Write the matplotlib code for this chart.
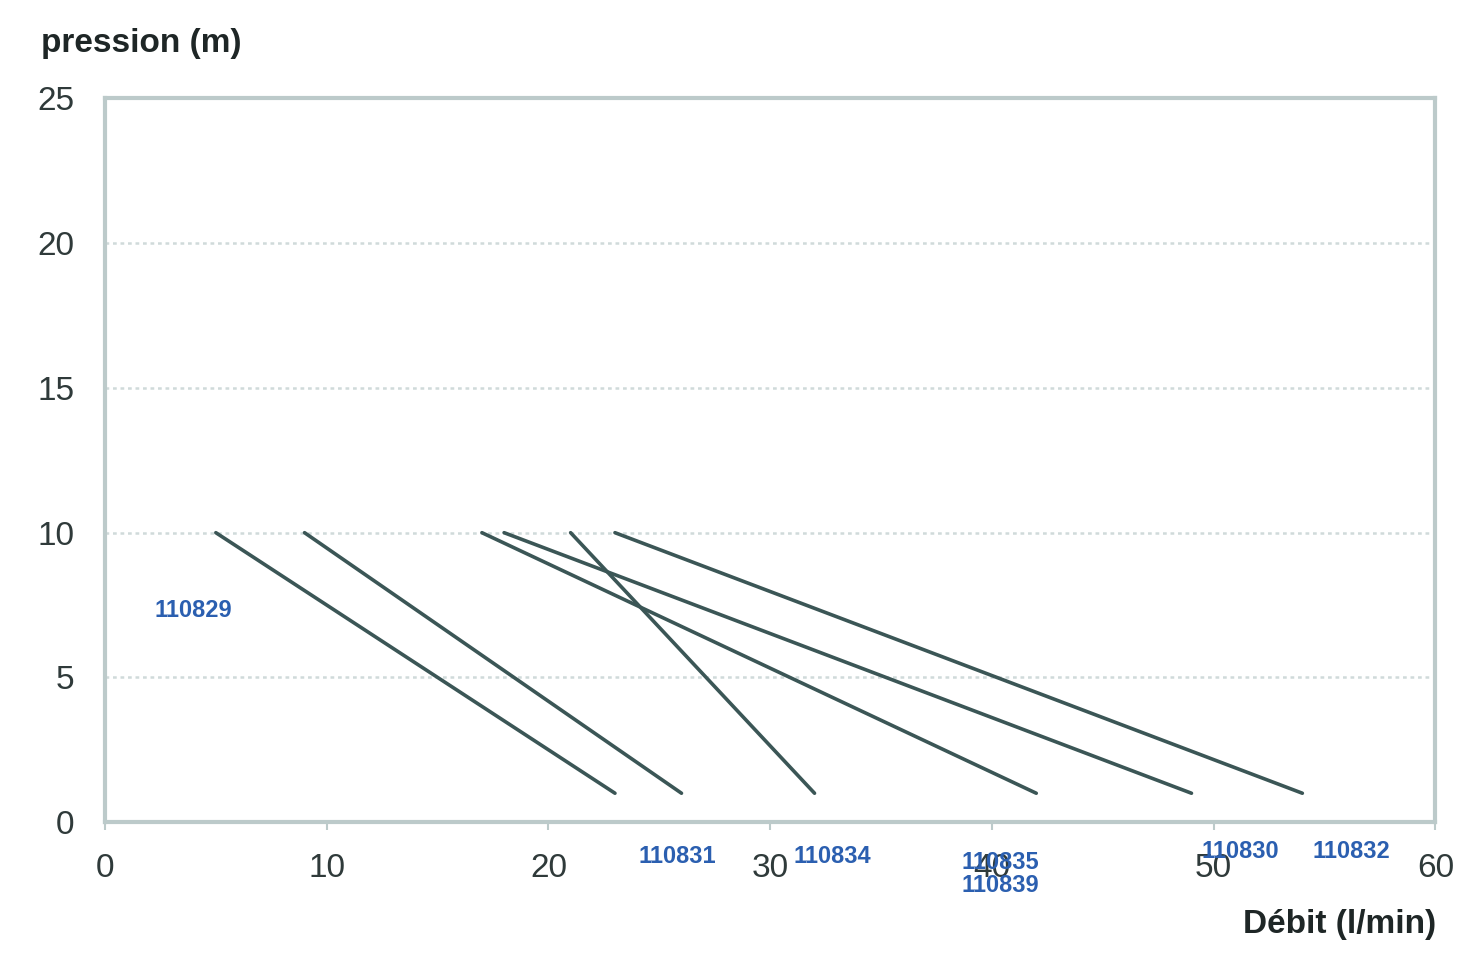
import numpy as np
import matplotlib.pyplot as plt

plt.rcParams['font.family'] = ['Liberation Sans', 'DejaVu Sans']

# start / end of each curve (debit l/min, pression m)
debit_start = [5, 9, 17, 18, 21, 23]
debit_end = [23, 26, 42, 49, 32, 54]
pression_start = [10, 10, 10, 10, 10, 10]
pression_end = [1, 1, 1, 1, 1, 1]

ref_labels = ["110829", "110831", "110834", "110835", "110839", "110830", "110832"]
ref_x = [4.0, 25.8, 32.8, 40.4, 40.4, 51.2, 56.2]
ref_y = [7.3, -1.2, -1.2, -1.4, -2.2, -1.0, -1.0]

fig = plt.figure(figsize=(14.62, 9.65), dpi=100)
ax = fig.add_axes([0.0718, 0.148, 0.91, 0.75])

line_col = '#3b5656'
for x0, x1, y0, y1 in zip(debit_start, debit_end, pression_start, pression_end):
    ax.plot([x0, x1], [y0, y1], color=line_col, lw=2.6, solid_capstyle='round')

ax.set_xlim(0, 60)
ax.set_ylim(0, 25)
ax.set_xticks(np.arange(0, 61, 10))
ax.set_yticks(np.arange(0, 26, 5))
for y in [5, 10, 15, 20]:
    ax.axhline(y, color='#d0dada', lw=1.8, ls=(0, (1.5, 1.5)), zorder=0)

for s in ax.spines.values():
    s.set_color('#bccaca')
    s.set_linewidth(3)

ax.tick_params(axis='x', length=6, width=1.5, color='#bccaca', pad=16,
               labelsize=24, labelcolor='#2f3a3a')
ax.tick_params(axis='y', length=0, pad=22, labelsize=24, labelcolor='#2f3a3a')

for lab, x, y in zip(ref_labels, ref_x, ref_y):
    ax.text(x, y, lab, color='#2b5fb0', fontsize=17, fontweight='bold',
            ha='center', va='center', clip_on=False)

fig.text(0.028, 0.955, 'pression (m)', fontsize=24, fontweight='bold',
         color='#1e2626', ha='left', va='center')
fig.text(0.982, 0.042, 'Débit (l/min)', fontsize=24, fontweight='bold',
         color='#1e2626', ha='right', va='center')

fig.savefig('out.png', dpi=100, facecolor='white')
